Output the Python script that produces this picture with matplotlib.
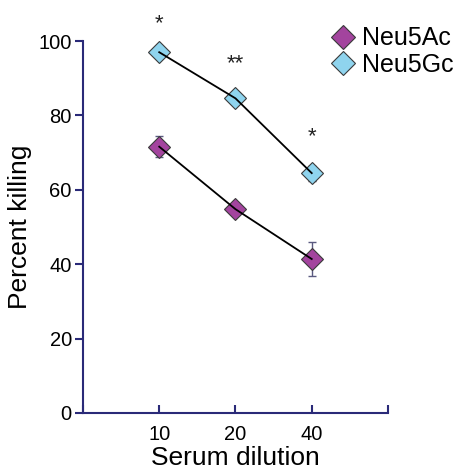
import matplotlib.pyplot as plt

plt.rcParams['font.family'] = ['Liberation Sans', 'DejaVu Sans']

# data
dilutions = ['10', '20', '40']
neu5ac = [71.6, 54.8, 41.4]
neu5ac_err = [2.8, 1.0, 4.5]
neu5gc = [97.0, 84.6, 64.5]
neu5gc_err = [0.8, 1.0, 2.0]
stars = ['*', '**', '*']
star_y = [104.8, 93.8, 74.3]

axis_col = '#2a2a78'

fig = plt.figure(figsize=(4.61, 4.72), dpi=100)
ax = fig.add_axes([0.18, 0.125, 0.6616, 0.788])

xs = [1, 2, 3]

# Neu5Ac
ax.errorbar(xs, neu5ac, yerr=neu5ac_err, fmt='none', ecolor='#5a5a80',
            elinewidth=1, capsize=3, capthick=1, zorder=2)
ax.plot(xs, neu5ac, 'D', ms=11.5, mfc='#a3449e', mec='#3a3a3a', mew=0.8,
        zorder=3, label='Neu5Ac')
ax.plot(xs, neu5ac, '-', color='black', lw=1.3, zorder=4)

# Neu5Gc
ax.errorbar(xs, neu5gc, yerr=neu5gc_err, fmt='none', ecolor='#3a3a5a',
            elinewidth=1, capsize=3, capthick=1, zorder=2)
ax.plot(xs, neu5gc, 'D', ms=11.5, mfc='#8fd4ee', mec='#3a3a3a', mew=0.8,
        zorder=3, label='Neu5Gc')
ax.plot(xs, neu5gc, '-', color='black', lw=1.3, zorder=4)

# significance marks
for x, s, y in zip(xs, stars, star_y):
    ax.text(x, y, s, ha='center', va='center', fontsize=16, color='#222222',
            clip_on=False)

ax.set_xlim(0, 4)
ax.set_ylim(0, 100)
ax.set_xticks([0, 1, 2, 3, 4])
ax.set_xticklabels([''] + dilutions + [''])
ax.set_yticks([0, 20, 40, 60, 80, 100])

for side in ['top', 'right']:
    ax.spines[side].set_visible(False)
for side in ['left', 'bottom']:
    ax.spines[side].set_color(axis_col)
    ax.spines[side].set_linewidth(1.5)

ax.tick_params(axis='x', direction='in', length=6, width=1.5, color=axis_col,
               labelsize=14.5, pad=9)
ax.tick_params(axis='y', direction='out', length=6, width=1.5, color=axis_col,
               labelsize=14.5, pad=2)

ax.set_xlabel('Serum dilution', fontsize=19, labelpad=1)
ax.set_ylabel('Percent killing', fontsize=19, labelpad=5)

fig.legend(loc='upper left', bbox_to_anchor=(0.718, 0.944), frameon=False,
           fontsize=18, handletextpad=0.25, labelspacing=0.1,
           handlelength=1.0, borderpad=0, borderaxespad=0, markerscale=1.1)

fig.savefig('out.png', dpi=100)
